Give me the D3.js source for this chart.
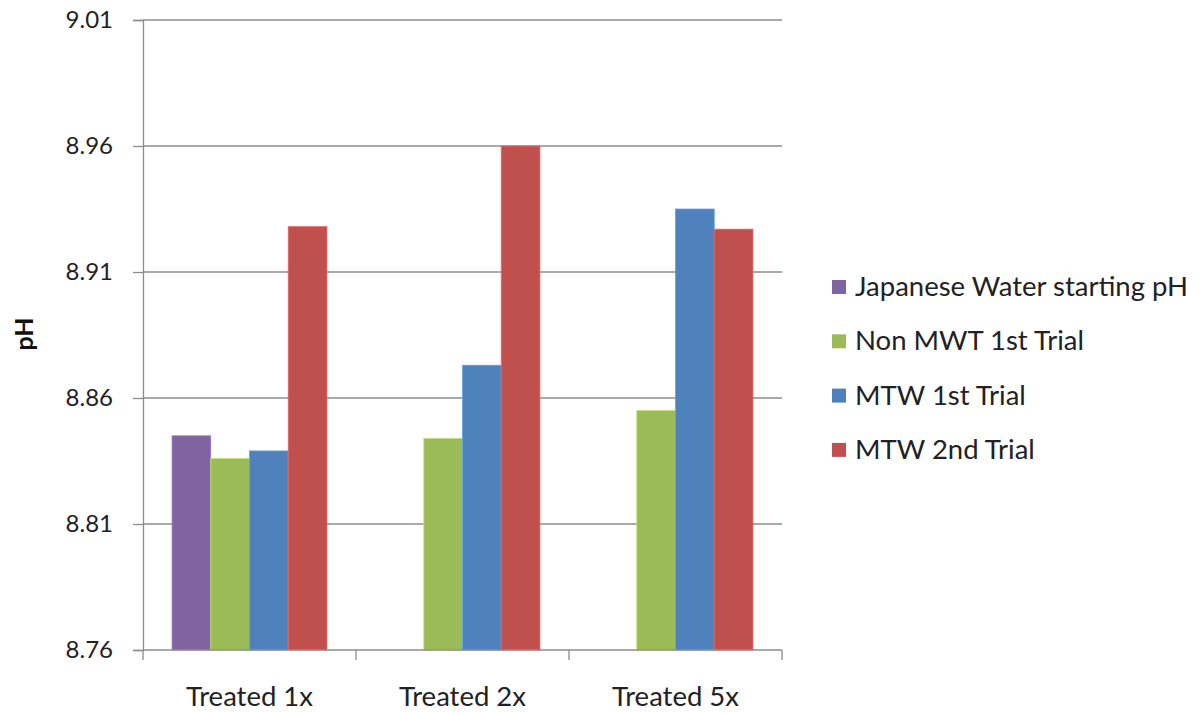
<!DOCTYPE html>
<html>
<head>
<meta charset="utf-8">
<script src="https://cdn.jsdelivr.net/npm/d3@7"></script>
<style>
  html, body { margin: 0; padding: 0; background: #fff; }
  svg { display: block; }
</style>
</head>
<body>
<svg id="chart" width="1200" height="713"></svg>
<script>
// Chart data
const categories = ["Treated 1x", "Treated 2x", "Treated 5x"];
const seriesNames = ["Japanese Water starting pH", "Non MWT 1st Trial", "MTW 1st Trial", "MTW 2nd Trial"];
const seriesColors = ["#8064A2", "#9BBB59", "#4F81BD", "#C0504D"];
const japaneseWater = [8.845, null, null];
const nonMwt1st = [8.836, 8.844, 8.855];
const mtw1st = [8.839, 8.873, 8.935];
const mtw2nd = [8.928, 8.960, 8.927];
const yTicks = [8.76, 8.81, 8.86, 8.91, 8.96, 9.01];
const yTitle = "pH";

const seriesValues = [japaneseWater, nonMwt1st, mtw1st, mtw2nd];

const svg = d3.select("#chart");
const font = "Lato, 'Open Sans', sans-serif";
const axisGrey = "#8c8c8c";

const plot = { left: 143, right: 782, top: 20, bottom: 650 };

const x = d3.scaleBand()
  .domain(categories)
  .range([plot.left, plot.right])
  .paddingInner(0)
  .paddingOuter(0);

// Four bar slots per category with a 150% gap split across both sides
const xInner = d3.scaleBand()
  .domain(seriesNames)
  .range([0, x.bandwidth()])
  .paddingInner(0)
  .paddingOuter(0.75);

const y = d3.scaleLinear()
  .domain([8.76, 9.01])
  .range([plot.bottom, plot.top]);

// Gridlines
svg.append("g")
  .selectAll("line")
  .data(yTicks.slice(1))
  .join("line")
  .attr("x1", plot.left)
  .attr("x2", plot.right)
  .attr("y1", d => y(d))
  .attr("y2", d => y(d))
  .attr("stroke", axisGrey)
  .attr("stroke-width", 1.3);

// Bars
const bars = [];
categories.forEach((c, ci) => {
  seriesNames.forEach((s, si) => {
    const v = seriesValues[si][ci];
    if (v != null) bars.push({ c, s, v, color: seriesColors[si] });
  });
});

svg.append("g")
  .selectAll("rect")
  .data(bars)
  .join("rect")
  .attr("x", d => x(d.c) + xInner(d.s))
  .attr("width", xInner.bandwidth())
  .attr("y", d => y(d.v))
  .attr("height", d => y(8.76) - y(d.v))
  .attr("fill", d => d.color)
  .attr("stroke", d => d3.color(d.color).brighter(0.6))
  .attr("stroke-width", 0.8);

// Y axis
const yAxis = d3.axisLeft(y)
  .tickValues(yTicks)
  .tickFormat(d3.format(".2f"))
  .tickSize(10)
  .tickPadding(20);

const gy = svg.append("g")
  .attr("transform", `translate(${plot.left},0)`)
  .call(yAxis);
gy.select(".domain").attr("stroke", axisGrey).attr("stroke-width", 1.3);
gy.selectAll(".tick line").attr("stroke", axisGrey).attr("stroke-width", 1.3);
gy.selectAll(".tick text")
  .attr("font-family", font)
  .attr("font-size", 24)
  .attr("fill", "#222");

// X axis with tick marks at category boundaries
const gx = svg.append("g")
  .attr("transform", `translate(0,${plot.bottom})`);
gx.append("line")
  .attr("x1", plot.left).attr("x2", plot.right)
  .attr("stroke", axisGrey).attr("stroke-width", 1.3);
const boundaries = categories.map(c => x(c)).concat([x(categories[categories.length - 1]) + x.bandwidth()]);
gx.selectAll("line.tk")
  .data(boundaries)
  .join("line")
  .attr("class", "tk")
  .attr("x1", d => d).attr("x2", d => d)
  .attr("y1", 0).attr("y2", 10)
  .attr("stroke", axisGrey).attr("stroke-width", 1.3);
gx.selectAll("text")
  .data(categories)
  .join("text")
  .attr("x", d => x(d) + x.bandwidth() / 2)
  .attr("y", 56)
  .attr("text-anchor", "middle")
  .attr("font-family", font)
  .attr("font-size", 27.5)
  .attr("fill", "#222")
  .text(d => d);

// Y axis title
svg.append("text")
  .attr("transform", "translate(33,334) rotate(-90)")
  .attr("text-anchor", "middle")
  .attr("font-family", font)
  .attr("font-weight", "bold")
  .attr("font-size", 25)
  .attr("fill", "#111")
  .text(yTitle);

// Legend
const legend = svg.append("g").attr("transform", "translate(832,287)");
const rows = legend.selectAll("g")
  .data(seriesNames)
  .join("g")
  .attr("transform", (d, i) => `translate(0,${i * 54.3})`);
rows.append("rect")
  .attr("x", 0).attr("y", -7)
  .attr("width", 14).attr("height", 14)
  .attr("fill", (d, i) => seriesColors[i]);
rows.append("text")
  .attr("x", 23)
  .attr("y", 9)
  .attr("font-family", font)
  .attr("font-size", 27.5)
  .attr("fill", "#222")
  .text(d => d);
</script>
</body>
</html>
